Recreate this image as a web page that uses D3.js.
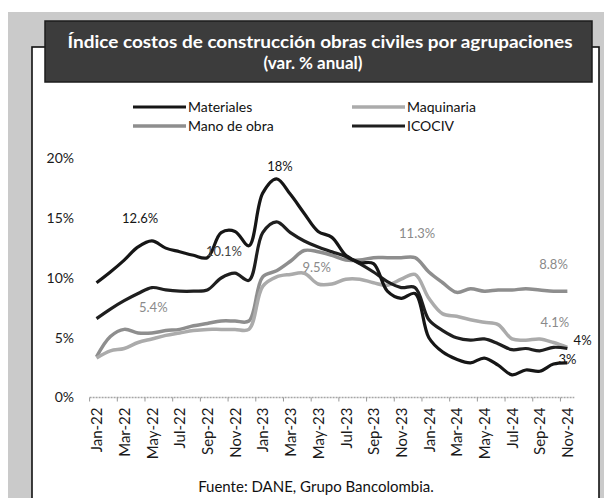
<!DOCTYPE html>
<html>
<head>
<meta charset="utf-8">
<script src="https://cdn.jsdelivr.net/npm/d3@7"></script>
<style>
  body { margin: 0; background: #fff; }
  text { font-family: Lato, "Open Sans", sans-serif; }
</style>
</head>
<body>
<div id="visual"></div>
<script>
//data (var. % anual)
const months = ["Jan-22","Feb-22","Mar-22","Apr-22","May-22","Jun-22","Jul-22","Aug-22","Sep-22","Oct-22","Nov-22","Dec-22",
                "Jan-23","Feb-23","Mar-23","Apr-23","May-23","Jun-23","Jul-23","Aug-23","Sep-23","Oct-23","Nov-23","Dec-23",
                "Jan-24","Feb-24","Mar-24","Apr-24","May-24","Jun-24","Jul-24","Aug-24","Sep-24","Oct-24","Nov-24"];
const tickMonths = months.filter((d,i) => i % 2 === 0);

const materiales = [9.6,10.5,11.5,12.6,13.1,12.5,12.2,11.9,11.7,13.8,13.9,12.7,
                    17.1,18.3,17.0,15.4,13.9,13.4,11.9,11.3,11.2,8.9,8.3,8.7,
                    5.0,3.8,3.2,2.9,3.3,2.7,1.9,2.3,2.2,2.8,2.9];
const icociv = [6.6,7.4,8.1,8.7,9.2,9.0,8.9,8.9,9.0,10.0,10.4,9.8,
                13.8,14.7,13.8,13.1,12.6,12.2,11.8,11.2,10.5,9.7,9.2,9.2,
                6.5,5.6,5.0,4.8,4.9,4.5,4.0,4.1,3.9,4.2,4.1];
const manoObra = [3.4,5.1,5.7,5.4,5.4,5.6,5.7,6.0,6.2,6.4,6.4,6.4,
                  10.1,10.6,11.4,12.3,12.2,11.9,11.5,11.5,11.7,11.7,11.7,11.7,
                  10.5,9.6,8.8,9.1,8.9,9.0,9.0,9.1,9.0,8.9,8.9];
const maquinaria = [3.3,3.9,4.1,4.6,4.9,5.2,5.4,5.6,5.7,5.7,5.7,5.7,
                    9.3,10.1,10.3,10.4,9.5,9.5,9.9,9.9,9.6,9.4,9.9,10.3,
                    8.3,7.0,6.8,6.5,6.3,6.1,4.9,4.8,4.9,4.6,4.2];

const seriesNames = ["Materiales","Maquinaria","Mano de obra","ICOCIV"];
const seriesValues = [materiales, maquinaria, manoObra, icociv];
const seriesColors = ["#161616","#ababab","#8e8e8e","#1f1f1f"];

//data labels: text, month index (can be fractional), level in %
const labelText  = ["12.6%","18%","10.1%","5.4%","9.5%","11.3%","8.8%","4.1%","4%","3%"];
const labelMonth = [3.15, 13.25, 9.2, 4.1, 15.9, 23.15, 33.0, 33.1, 35.1, 34.0];
const labelLevel = [15.0, 19.3, 12.2, 7.5, 10.85, 13.75, 11.1, 6.3, 4.8, 3.15];
const labelColor = ["#151515","#151515","#444","#8a8a8a","#8a8a8a","#8a8a8a","#8a8a8a","#8a8a8a","#151515","#151515"];

const yTicks = [0,5,10,15,20];

//constants
const width = 610, height = 498;

const svg = d3.select("#visual")
  .append("svg")
  .attr("width", width)
  .attr("height", height);

//frame (scan look)
svg.append("rect").attr("x",8).attr("y",12).attr("width",596).attr("height",495).attr("fill","#cacaca");
svg.append("rect").attr("x",32).attr("y",47).attr("width",567).attr("height",470)
  .attr("fill","#fff").attr("stroke","#111").attr("stroke-width",1.6);
svg.append("rect").attr("x",45).attr("y",21).attr("width",547).attr("height",61)
  .attr("fill","#3c3c3c").attr("stroke","#1c1c1c").attr("stroke-width",1.5);

const title = svg.append("text")
  .attr("text-anchor","middle")
  .attr("fill","#fff")
  .style("font-weight","bold")
  .style("font-size","17px");
title.append("tspan")
  .attr("x",320).attr("y",48)
  .attr("textLength",505).attr("lengthAdjust","spacingAndGlyphs")
  .text("Índice costos de construcción obras civiles por agrupaciones");
title.append("tspan")
  .attr("x",313).attr("y",69)
  .text("(var. % anual)");

//scales
const x = d3.scalePoint()
  .domain(months)
  .range([89.6, 574.3])
  .padding(0.5);
const y = d3.scaleLinear()
  .domain([0,20])
  .range([397.5, 158.5]);
const xAt = m => x(months[0]) + m * x.step();

//y axis
const yAxis = svg.append("g")
  .attr("transform","translate(76,0)")
  .call(d3.axisLeft(y).tickValues(yTicks).tickFormat(d => d + "%").tickSize(0).tickPadding(2));
yAxis.select(".domain").remove();
yAxis.selectAll("text").style("font-size","14px").style("font-family","Lato, sans-serif").attr("fill","#1a1a1a");

//x axis
const xAxis = svg.append("g")
  .attr("transform","translate(0," + y(0) + ")")
  .call(d3.axisBottom(x).tickValues(tickMonths).tickSize(0));
xAxis.select(".domain").remove();
xAxis.selectAll("text")
  .attr("transform","rotate(-90)")
  .attr("text-anchor","end")
  .attr("x",-10)
  .attr("y",0)
  .attr("dy","0.35em")
  .attr("fill","#1a1a1a")
  .style("font-size","15px")
  .style("font-family","Lato, sans-serif");

svg.append("line")
  .attr("x1",x.range()[0]).attr("x2",x.range()[1])
  .attr("y1",y(0)).attr("y2",y(0))
  .attr("stroke","#a6a6a6").attr("stroke-width",1.5).attr("stroke-dasharray","2,1");
svg.selectAll(".xtick")
  .data(d3.range(0, months.length, 2))
  .enter()
  .append("line")
  .attr("class","xtick")
  .attr("x1",d => xAt(d - 0.5)).attr("x2",d => xAt(d - 0.5))
  .attr("y1",y(0)).attr("y2",y(0) + 4)
  .attr("stroke","#999").attr("stroke-width",1);

//lines
const line = d3.line()
  .x((d,i) => x(months[i]))
  .y(d => y(d))
  .curve(d3.curveCatmullRom.alpha(0.5));

const order = [2,1,3,0]; //grays first, darks on top
svg.selectAll(".series")
  .data(order)
  .enter()
  .append("path")
  .attr("class","series")
  .attr("fill","none")
  .attr("stroke",i => seriesColors[i])
  .attr("stroke-width",i => i === 1 || i === 2 ? 3.5 : 3.2)
  .attr("stroke-linejoin","round")
  .attr("d",i => line(seriesValues[i]));

//data labels
svg.selectAll(".dlabel")
  .data(labelText)
  .enter()
  .append("text")
  .attr("class","dlabel")
  .attr("x",(d,i) => xAt(labelMonth[i]))
  .attr("y",(d,i) => y(labelLevel[i]))
  .attr("dy","0.35em")
  .attr("text-anchor","middle")
  .attr("fill",(d,i) => labelColor[i])
  .style("font-size","13px")
  .text(d => d);

//legend
const legend = svg.append("g").attr("id","legend");
const items = legend.selectAll("g")
  .data(seriesNames)
  .enter()
  .append("g")
  .attr("transform",(d,i) => "translate(" + (133 + (i % 2) * 219) + "," + (107 + Math.floor(i / 2) * 19) + ")");
items.append("line")
  .attr("x1",0).attr("x2",53)
  .attr("stroke",(d,i) => seriesColors[i])
  .attr("stroke-width",(d,i) => i === 1 || i === 2 ? 3.5 : 3.2);
items.append("text")
  .attr("x",55)
  .attr("dy","0.35em")
  .attr("fill","#111")
  .style("font-size","14px")
  .text(d => d);

//source
svg.append("text")
  .attr("x",316).attr("y",492)
  .attr("text-anchor","middle")
  .attr("fill","#111")
  .style("font-size","15px")
  .text("Fuente: DANE, Grupo Bancolombia.");
</script>
</body>
</html>
